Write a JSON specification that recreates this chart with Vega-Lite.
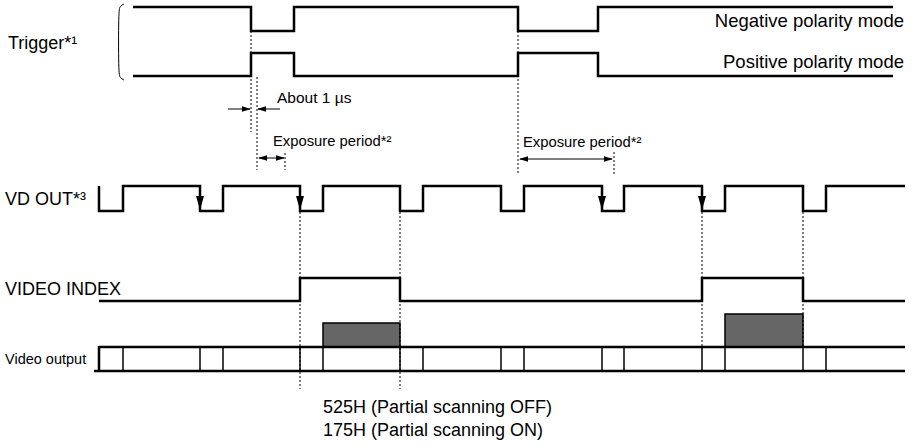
{
  "$schema": "https://vega.github.io/schema/vega-lite/v6.json",
  "width": 914,
  "height": 446,
  "padding": 0,
  "autosize": {"type": "none"},
  "background": "white",
  "config": {"view": {"stroke": null}},
  "datasets": {
    "waves": [
      {"id": "neg", "i": 0, "x": 133, "y": 7}, {"id": "neg", "i": 1, "x": 251, "y": 7}, {"id": "neg", "i": 2, "x": 251, "y": 31}, {"id": "neg", "i": 3, "x": 294, "y": 31}, {"id": "neg", "i": 4, "x": 294, "y": 7}, {"id": "neg", "i": 5, "x": 518, "y": 7}, {"id": "neg", "i": 6, "x": 518, "y": 31}, {"id": "neg", "i": 7, "x": 598, "y": 31}, {"id": "neg", "i": 8, "x": 598, "y": 7}, {"id": "neg", "i": 9, "x": 893, "y": 7},
      {"id": "pos", "i": 0, "x": 133, "y": 76}, {"id": "pos", "i": 1, "x": 251, "y": 76}, {"id": "pos", "i": 2, "x": 251, "y": 53}, {"id": "pos", "i": 3, "x": 294, "y": 53}, {"id": "pos", "i": 4, "x": 294, "y": 76}, {"id": "pos", "i": 5, "x": 518, "y": 76}, {"id": "pos", "i": 6, "x": 518, "y": 53}, {"id": "pos", "i": 7, "x": 598, "y": 53}, {"id": "pos", "i": 8, "x": 598, "y": 76}, {"id": "pos", "i": 9, "x": 893, "y": 76},
      {"id": "vd", "i": 0, "x": 99, "y": 186}, {"id": "vd", "i": 1, "x": 99, "y": 211}, {"id": "vd", "i": 2, "x": 123, "y": 211}, {"id": "vd", "i": 3, "x": 123, "y": 186}, {"id": "vd", "i": 4, "x": 200, "y": 186}, {"id": "vd", "i": 5, "x": 200, "y": 211}, {"id": "vd", "i": 6, "x": 223, "y": 211}, {"id": "vd", "i": 7, "x": 223, "y": 186}, {"id": "vd", "i": 8, "x": 300, "y": 186}, {"id": "vd", "i": 9, "x": 300, "y": 211}, {"id": "vd", "i": 10, "x": 323, "y": 211}, {"id": "vd", "i": 11, "x": 323, "y": 186}, {"id": "vd", "i": 12, "x": 400, "y": 186}, {"id": "vd", "i": 13, "x": 400, "y": 211}, {"id": "vd", "i": 14, "x": 423, "y": 211}, {"id": "vd", "i": 15, "x": 423, "y": 186}, {"id": "vd", "i": 16, "x": 501, "y": 186}, {"id": "vd", "i": 17, "x": 501, "y": 211}, {"id": "vd", "i": 18, "x": 524, "y": 211}, {"id": "vd", "i": 19, "x": 524, "y": 186}, {"id": "vd", "i": 20, "x": 602, "y": 186}, {"id": "vd", "i": 21, "x": 602, "y": 211}, {"id": "vd", "i": 22, "x": 624, "y": 211}, {"id": "vd", "i": 23, "x": 624, "y": 186}, {"id": "vd", "i": 24, "x": 702, "y": 186}, {"id": "vd", "i": 25, "x": 702, "y": 211}, {"id": "vd", "i": 26, "x": 725, "y": 211}, {"id": "vd", "i": 27, "x": 725, "y": 186}, {"id": "vd", "i": 28, "x": 803, "y": 186}, {"id": "vd", "i": 29, "x": 803, "y": 211}, {"id": "vd", "i": 30, "x": 826, "y": 211}, {"id": "vd", "i": 31, "x": 826, "y": 186}, {"id": "vd", "i": 32, "x": 905, "y": 186},
      {"id": "vi", "i": 0, "x": 99, "y": 301}, {"id": "vi", "i": 1, "x": 300, "y": 301}, {"id": "vi", "i": 2, "x": 300, "y": 278}, {"id": "vi", "i": 3, "x": 400, "y": 278}, {"id": "vi", "i": 4, "x": 400, "y": 301}, {"id": "vi", "i": 5, "x": 702, "y": 301}, {"id": "vi", "i": 6, "x": 702, "y": 278}, {"id": "vi", "i": 7, "x": 803, "y": 278}, {"id": "vi", "i": 8, "x": 803, "y": 301}, {"id": "vi", "i": 9, "x": 905, "y": 301}
    ],
    "bracket": [
      {"i": 0, "x": 124, "y": 4}, {"i": 1, "x": 120, "y": 6}, {"i": 2, "x": 118.5, "y": 11}, {"i": 3, "x": 118.5, "y": 73}, {"i": 4, "x": 120, "y": 78}, {"i": 5, "x": 124, "y": 80}
    ],
    "segs": [
      {"kind": "dot", "x": 251, "y": 31, "x2": 251, "y2": 132},
      {"kind": "dot", "x": 257, "y": 77, "x2": 257, "y2": 170},
      {"kind": "dot", "x": 285, "y": 153, "x2": 285, "y2": 170},
      {"kind": "dot", "x": 518, "y": 31, "x2": 518, "y2": 175},
      {"kind": "dot", "x": 614, "y": 152, "x2": 614, "y2": 175},
      {"kind": "dot", "x": 300, "y": 212, "x2": 300, "y2": 389},
      {"kind": "dot", "x": 400, "y": 212, "x2": 400, "y2": 389},
      {"kind": "dot", "x": 702, "y": 212, "x2": 702, "y2": 347},
      {"kind": "dot", "x": 803, "y": 212, "x2": 803, "y2": 347},
      {"kind": "thin", "x": 228, "y": 109, "x2": 250, "y2": 109},
      {"kind": "thin", "x": 258, "y": 109, "x2": 280, "y2": 109},
      {"kind": "thin", "x": 259, "y": 158, "x2": 284, "y2": 158},
      {"kind": "thin", "x": 520, "y": 159, "x2": 612, "y2": 159},
      {"kind": "cell", "x": 123, "y": 347, "x2": 123, "y2": 371},
      {"kind": "cell", "x": 200, "y": 347, "x2": 200, "y2": 371},
      {"kind": "cell", "x": 223, "y": 347, "x2": 223, "y2": 371},
      {"kind": "cell", "x": 300, "y": 347, "x2": 300, "y2": 371},
      {"kind": "cell", "x": 323, "y": 347, "x2": 323, "y2": 371},
      {"kind": "cell", "x": 400, "y": 347, "x2": 400, "y2": 371},
      {"kind": "cell", "x": 423, "y": 347, "x2": 423, "y2": 371},
      {"kind": "cell", "x": 501, "y": 347, "x2": 501, "y2": 371},
      {"kind": "cell", "x": 524, "y": 347, "x2": 524, "y2": 371},
      {"kind": "cell", "x": 602, "y": 347, "x2": 602, "y2": 371},
      {"kind": "cell", "x": 624, "y": 347, "x2": 624, "y2": 371},
      {"kind": "cell", "x": 702, "y": 347, "x2": 702, "y2": 371},
      {"kind": "cell", "x": 725, "y": 347, "x2": 725, "y2": 371},
      {"kind": "cell", "x": 803, "y": 347, "x2": 803, "y2": 371},
      {"kind": "cell", "x": 826, "y": 347, "x2": 826, "y2": 371},
      {"kind": "rail", "x": 99, "y": 347, "x2": 905, "y2": 347},
      {"kind": "rail", "x": 94, "y": 371, "x2": 905, "y2": 371},
      {"kind": "rail", "x": 99, "y": 346, "x2": 99, "y2": 371}
    ],
    "heads": [
      {"dir": "r", "x": 251, "y": 109}, {"dir": "l", "x": 257, "y": 109},
      {"dir": "l", "x": 258, "y": 158}, {"dir": "r", "x": 285, "y": 158},
      {"dir": "l", "x": 519, "y": 159}, {"dir": "r", "x": 613, "y": 159}
    ],
    "downs": [
      {"x": 200, "y": 210}, {"x": 300, "y": 210}, {"x": 602, "y": 210}, {"x": 702, "y": 210}
    ],
    "boxes": [
      {"x": 323, "y": 323, "x2": 400, "y2": 347},
      {"x": 725, "y": 314, "x2": 803, "y2": 347}
    ],
    "texts": [
      {"role": "signal", "t": "Trigger*¹", "x": 8, "y": 49},
      {"role": "signal", "t": "VD OUT*³", "x": 5, "y": 205},
      {"role": "signal", "t": "VIDEO INDEX", "x": 5, "y": 295},
      {"role": "mode", "t": "Negative polarity mode", "x": 904, "y": 27},
      {"role": "mode", "t": "Positive polarity mode", "x": 904, "y": 68},
      {"role": "note", "t": "About 1 µs", "x": 277, "y": 103},
      {"role": "exp", "t": "Exposure period*²", "x": 273, "y": 146},
      {"role": "exp", "t": "Exposure period*²", "x": 523, "y": 147},
      {"role": "small", "t": "Video output", "x": 5, "y": 364},
      {"role": "foot", "t": "525H (Partial scanning OFF)", "x": 323, "y": 413},
      {"role": "foot", "t": "175H (Partial scanning ON)", "x": 323, "y": 436}
    ]
  },
  "layer": [
    {
      "data": {"name": "boxes"},
      "mark": {"type": "rect", "fill": "#666666", "stroke": "#000000", "strokeWidth": 1.5},
      "encoding": {
        "x": {"field": "x", "type": "quantitative", "scale": {"domain": [0, 914], "nice": false, "zero": false}, "axis": null},
        "x2": {"field": "x2"},
        "y": {"field": "y", "type": "quantitative", "scale": {"domain": [0, 446], "nice": false, "zero": false, "reverse": true}, "axis": null},
        "y2": {"field": "y2"}
      }
    },
    {
      "data": {"name": "segs"},
      "transform": [{"filter": "datum.kind === 'dot'"}],
      "mark": {"type": "rule", "color": "#000000", "strokeWidth": 1, "strokeDash": [2, 2]},
      "encoding": {
        "x": {"field": "x", "type": "quantitative"}, "x2": {"field": "x2"},
        "y": {"field": "y", "type": "quantitative"}, "y2": {"field": "y2"}
      }
    },
    {
      "data": {"name": "segs"},
      "transform": [{"filter": "datum.kind === 'thin'"}],
      "mark": {"type": "rule", "color": "#000000", "strokeWidth": 1},
      "encoding": {
        "x": {"field": "x", "type": "quantitative"}, "x2": {"field": "x2"},
        "y": {"field": "y", "type": "quantitative"}, "y2": {"field": "y2"}
      }
    },
    {
      "data": {"name": "segs"},
      "transform": [{"filter": "datum.kind === 'cell'"}],
      "mark": {"type": "rule", "color": "#000000", "strokeWidth": 1.5},
      "encoding": {
        "x": {"field": "x", "type": "quantitative"}, "x2": {"field": "x2"},
        "y": {"field": "y", "type": "quantitative"}, "y2": {"field": "y2"}
      }
    },
    {
      "data": {"name": "segs"},
      "transform": [{"filter": "datum.kind === 'rail'"}],
      "mark": {"type": "rule", "color": "#000000", "strokeWidth": 2.5},
      "encoding": {
        "x": {"field": "x", "type": "quantitative"}, "x2": {"field": "x2"},
        "y": {"field": "y", "type": "quantitative"}, "y2": {"field": "y2"}
      }
    },
    {
      "data": {"name": "waves"},
      "mark": {"type": "line", "color": "#000000", "strokeWidth": 2.5, "strokeJoin": "miter", "strokeCap": "butt"},
      "encoding": {
        "x": {"field": "x", "type": "quantitative"},
        "y": {"field": "y", "type": "quantitative"},
        "detail": {"field": "id"},
        "order": {"field": "i", "type": "quantitative"}
      }
    },
    {
      "data": {"name": "bracket"},
      "mark": {"type": "line", "color": "#000000", "strokeWidth": 1, "interpolate": "basis"},
      "encoding": {
        "x": {"field": "x", "type": "quantitative"},
        "y": {"field": "y", "type": "quantitative"},
        "order": {"field": "i", "type": "quantitative"}
      }
    },
    {
      "data": {"name": "heads"},
      "mark": {"type": "point", "filled": true, "color": "#000000", "opacity": 1, "size": 81, "strokeWidth": 0},
      "encoding": {
        "x": {"field": "x", "type": "quantitative"},
        "y": {"field": "y", "type": "quantitative"},
        "shape": {"field": "dir", "type": "nominal", "legend": null, "scale": {"domain": ["r", "l"], "range": ["M0,0L-2,-0.6L-2,0.6Z", "M0,0L2,-0.6L2,0.6Z"]}}
      }
    },
    {
      "data": {"name": "downs"},
      "mark": {"type": "point", "filled": true, "color": "#000000", "opacity": 1, "size": 64, "strokeWidth": 0, "shape": "M0,0L-1,-3.5L1,-3.5Z"},
      "encoding": {
        "x": {"field": "x", "type": "quantitative"},
        "y": {"field": "y", "type": "quantitative"}
      }
    },
    {
      "data": {"name": "texts"},
      "transform": [{"filter": "datum.role === 'signal'"}],
      "mark": {"type": "text", "align": "left", "baseline": "alphabetic", "font": "Liberation Sans", "fontSize": 18, "color": "#000000"},
      "encoding": {"x": {"field": "x", "type": "quantitative"}, "y": {"field": "y", "type": "quantitative"}, "text": {"field": "t"}}
    },
    {
      "data": {"name": "texts"},
      "transform": [{"filter": "datum.role === 'mode'"}],
      "mark": {"type": "text", "align": "right", "baseline": "alphabetic", "font": "Liberation Sans", "fontSize": 18.5, "color": "#000000"},
      "encoding": {"x": {"field": "x", "type": "quantitative"}, "y": {"field": "y", "type": "quantitative"}, "text": {"field": "t"}}
    },
    {
      "data": {"name": "texts"},
      "transform": [{"filter": "datum.role === 'note'"}],
      "mark": {"type": "text", "align": "left", "baseline": "alphabetic", "font": "Liberation Sans", "fontSize": 15.5, "color": "#000000"},
      "encoding": {"x": {"field": "x", "type": "quantitative"}, "y": {"field": "y", "type": "quantitative"}, "text": {"field": "t"}}
    },
    {
      "data": {"name": "texts"},
      "transform": [{"filter": "datum.role === 'exp'"}],
      "mark": {"type": "text", "align": "left", "baseline": "alphabetic", "font": "Liberation Sans", "fontSize": 14.8, "color": "#000000"},
      "encoding": {"x": {"field": "x", "type": "quantitative"}, "y": {"field": "y", "type": "quantitative"}, "text": {"field": "t"}}
    },
    {
      "data": {"name": "texts"},
      "transform": [{"filter": "datum.role === 'small'"}],
      "mark": {"type": "text", "align": "left", "baseline": "alphabetic", "font": "Liberation Sans", "fontSize": 14.5, "color": "#000000"},
      "encoding": {"x": {"field": "x", "type": "quantitative"}, "y": {"field": "y", "type": "quantitative"}, "text": {"field": "t"}}
    },
    {
      "data": {"name": "texts"},
      "transform": [{"filter": "datum.role === 'foot'"}],
      "mark": {"type": "text", "align": "left", "baseline": "alphabetic", "font": "Liberation Sans", "fontSize": 18, "color": "#000000"},
      "encoding": {"x": {"field": "x", "type": "quantitative"}, "y": {"field": "y", "type": "quantitative"}, "text": {"field": "t"}}
    }
  ]
}
